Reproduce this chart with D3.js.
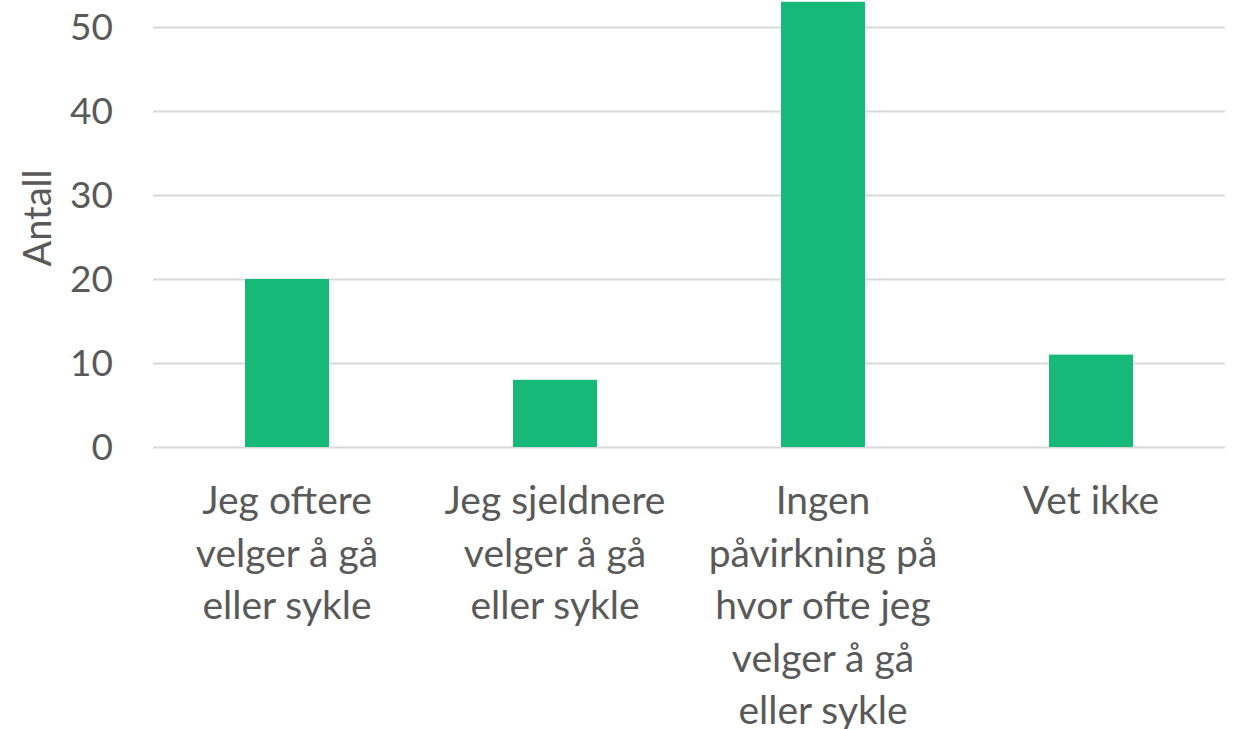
<!DOCTYPE html>
<html>
<head>
<meta charset="utf-8">
<script src="https://cdn.jsdelivr.net/npm/d3@7"></script>
<style>
    body { margin: 0; background: #ffffff; }
    svg { display: block; }
    .tick-label, .cat-label, .axis-title {
        font-family: "Lato", "Open Sans", sans-serif;
        fill: #595959;
    }
    .grid line { stroke: #d9d9d9; stroke-width: 2; }
</style>
</head>
<body>
<div id="chart"></div>
<script>
// Chart size (matches the window)
let width = 1233;
let height = 729;

// The data: answers and number of respondents
let categories = [
    ["Jeg oftere", "velger å gå", "eller sykle"],
    ["Jeg sjeldnere", "velger å gå", "eller sykle"],
    ["Ingen", "påvirkning på", "hvor ofte jeg", "velger å gå", "eller sykle"],
    ["Vet ikke"]
];
let counts = [20, 8, 53, 11];
let yTicks = [0, 10, 20, 30, 40, 50];

// Plot area
let plotLeft = 153;
let plotRight = 1225;
let plotBottom = 447;
let plotTop = 27;

let svg = d3.select("#chart")
    .append("svg")
    .attr("width", width)
    .attr("height", height);

// Scales
let xScale = d3.scaleBand()
    .domain(d3.range(categories.length))
    .range([plotLeft, plotRight])
    .paddingInner(0.6866)
    .paddingOuter(0.3433);

let yScale = d3.scaleLinear()
    .domain([0, 50])
    .range([plotBottom, plotTop]);

// Gridlines
let yAxis = d3.axisLeft(yScale)
    .tickValues(yTicks)
    .tickSize(-(plotRight - plotLeft))
    .tickFormat("");

svg.append("g")
    .attr("class", "grid")
    .attr("transform", "translate(" + plotLeft + ",0)")
    .call(yAxis)
    .call(function (g) { g.select(".domain").remove(); });

// Tick labels
svg.selectAll(".tick-label")
    .data(yTicks)
    .enter()
    .append("text")
    .attr("class", "tick-label")
    .attr("x", 113)
    .attr("y", function (d) { return yScale(d); })
    .attr("dy", "0.36em")
    .attr("text-anchor", "end")
    .style("font-size", "37px")
    .text(function (d) { return d; });

// Bars
svg.selectAll(".bar")
    .data(counts)
    .enter()
    .append("rect")
    .attr("class", "bar")
    .attr("x", function (d, i) { return xScale(i); })
    .attr("y", function (d) { return yScale(d); })
    .attr("width", xScale.bandwidth())
    .attr("height", function (d) { return yScale(0) - yScale(d); })
    .attr("fill", "#17b978");

// Category labels, one tspan per line
let catText = svg.selectAll(".cat-label")
    .data(categories)
    .enter()
    .append("text")
    .attr("class", "cat-label")
    .attr("text-anchor", "middle")
    .style("font-size", "39px");

catText.selectAll("tspan")
    .data(function (d, i) {
        return d.map(function (line) { return { line: line, i: i }; });
    })
    .enter()
    .append("tspan")
    .attr("x", function (d) { return xScale(d.i) + xScale.bandwidth() / 2; })
    .attr("y", function (d, j) { return 514 + j * 52.5; })
    .text(function (d) { return d.line; });

// Y axis title
svg.append("text")
    .attr("class", "axis-title")
    .attr("transform", "translate(51, 218) rotate(-90)")
    .attr("text-anchor", "middle")
    .style("font-size", "38px")
    .text("Antall");
</script>
</body>
</html>
